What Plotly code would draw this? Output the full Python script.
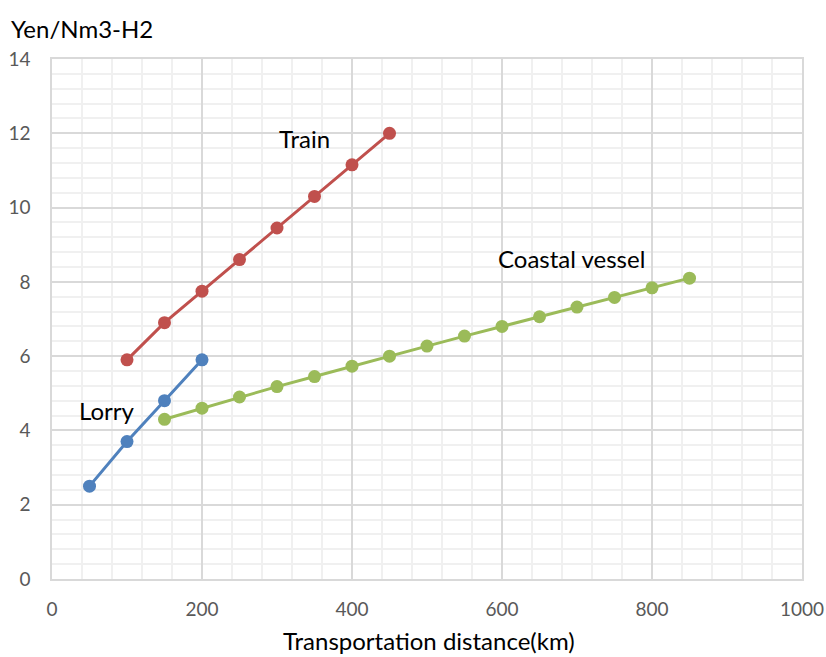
import plotly.graph_objects as go

# Transport cost of hydrogen by distance
lorry_km = [50, 100, 150, 200]
lorry_cost = [2.5, 3.7, 4.8, 5.9]

train_km = [100, 150, 200, 250, 300, 350, 400, 450]
train_cost = [5.9, 6.9, 7.75, 8.6, 9.45, 10.3, 11.15, 12.0]

vessel_km = [150, 200, 250, 300, 350, 400, 450, 500, 550, 600, 650, 700, 750, 800, 850]
vessel_cost = [4.3, 4.6, 4.9, 5.18, 5.45, 5.73, 6.0, 6.27, 6.54, 6.8, 7.06, 7.32, 7.58, 7.84, 8.1]

x_ticks = [0, 200, 400, 600, 800, 1000]
y_ticks = [0, 2, 4, 6, 8, 10, 12, 14]

FONT = "Lato, 'Open Sans', sans-serif"
LABEL_SIZE = 24

fig = go.Figure()
for name, xs, ys, color in [
    ("Lorry", lorry_km, lorry_cost, "#4F81BD"),
    ("Train", train_km, train_cost, "#C0504D"),
    ("Coastal vessel", vessel_km, vessel_cost, "#9BBB59"),
]:
    fig.add_trace(go.Scatter(
        x=xs, y=ys, name=name, mode="lines+markers",
        line=dict(color=color, width=3),
        marker=dict(color=color, size=13),
    ))

# Series labels placed next to each line
for text, x, y in [("Train", 337, 11.87), ("Lorry", 73, 4.55), ("Coastal vessel", 693, 8.64)]:
    fig.add_annotation(x=x, y=y, text=text, showarrow=False,
                       font=dict(family=FONT, size=LABEL_SIZE, color="#000000"))

# Axis titles
fig.add_annotation(xref="paper", yref="paper", x=-0.058, y=1.0, yshift=31,
                   xanchor="left", yanchor="middle", text="Yen/Nm3-H2", showarrow=False,
                   font=dict(family=FONT, size=LABEL_SIZE, color="#000000"))
fig.add_annotation(xref="paper", yref="paper", x=0.503, y=0.0, yshift=-61,
                   xanchor="center", yanchor="middle", text="Transportation distance(km)",
                   showarrow=False, font=dict(family=FONT, size=LABEL_SIZE, color="#000000"))

axis_common = dict(
    showline=True, linecolor="#D9D9D9", linewidth=1.5, mirror=True,
    gridcolor="#D9D9D9", gridwidth=1.5, zeroline=False, automargin=False,
    tickfont=dict(family=FONT, size=19, color="#595959"),
    ticks="outside", tickcolor="rgba(0,0,0,0)",
)

fig.update_xaxes(
    range=[0, 1000], tickvals=x_ticks, ticklen=12,
    minor=dict(dtick=40, showgrid=True, gridcolor="#F0F0F0", gridwidth=1.5),
    **axis_common,
)
fig.update_yaxes(
    range=[0, 14], tickvals=y_ticks, ticklen=16,
    minor=dict(dtick=0.4, showgrid=True, gridcolor="#F0F0F0", gridwidth=1.5),
    **axis_common,
)

fig.update_layout(
    width=826, height=657,
    margin=dict(l=52, r=24, t=59, b=78),
    plot_bgcolor="white", paper_bgcolor="white",
    showlegend=False,
)

fig.write_html("out.html")
